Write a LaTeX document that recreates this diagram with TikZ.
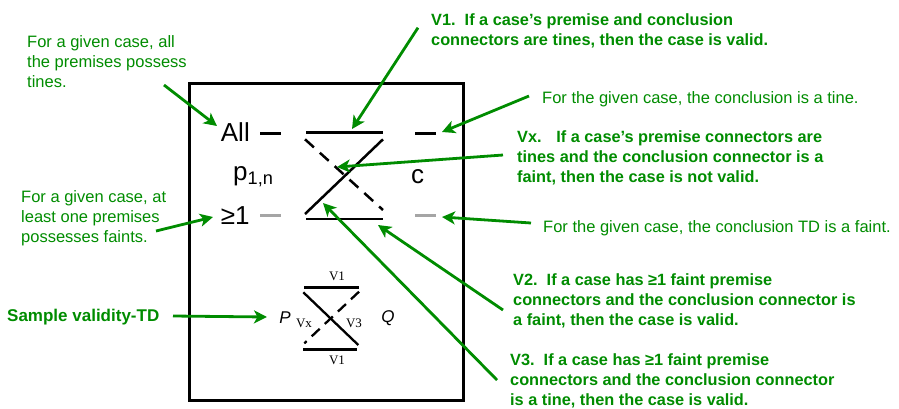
\documentclass[tikz,border=0pt]{standalone}
\usepackage{fontspec}
\setmainfont{Liberation Serif}
\setsansfont{Liberation Sans}
\usetikzlibrary{arrows.meta}

\definecolor{notegreen}{RGB}{0,140,0}
\definecolor{faintgray}{RGB}{165,165,165}

\begin{document}
\begin{tikzpicture}
[
	x=1pt, y=-1pt,
	note/.style={text=notegreen, font=\sffamily\fontsize{16.5}{20}\selectfont, align=left, anchor=north west, inner sep=0pt},
	rule/.style={note, font=\sffamily\bfseries\fontsize{16.3}{20}\selectfont},
	pointer/.style={draw=notegreen, line width=2.8pt, -{Stealth[length=13pt,width=13pt,inset=3.5pt]}},
	tine/.style={line width=2.8pt},
	faint/.style={line width=2.8pt, faintgray},
	dashline/.style={line width=2.5pt, dash pattern=on 12pt off 8pt},
	biglabel/.style={font=\sffamily\fontsize{26}{26}\selectfont, inner sep=0pt, anchor=base west},
	smalllabel/.style={font=\rmfamily\fontsize{13}{13}\selectfont, inner sep=0pt},
	letter/.style={font=\sffamily\itshape\fontsize{17}{17}\selectfont, inner sep=0pt}
]

	\useasboundingbox (0,0) rectangle (899,408);

	% frame
	\draw[line width=3pt] (189,83) rectangle (463,400);

	% premise and conclusion labels
	\node[biglabel] (all) at (220.7,141.7) {All};
	\node[biglabel] (atleast) at (220.7,224) {≥1};
	\node[biglabel] (prem) at (233,180.5) {p\textsubscript{1,n}};
	\node[biglabel] (concl) at (411,183) {c};

	% connectors of the case
	\draw[tine] (260,133.3) -- (281,133.3);
	\draw[faint] (260,215.3) -- (281,215.3);
	\draw[tine] (415,133.3) -- (436,133.3);
	\draw[faint] (415,215.3) -- (436,215.3);

	% validity-TD
	\coordinate (tl) at (306,132.3);
	\coordinate (tr) at (383,132.3);
	\coordinate (bl) at (306,219);
	\coordinate (br) at (383,219);
	\draw[tine] (tl) -- (tr);
	\draw[tine] (bl) -- (br);
	\draw[dashline] (305,139.3) -- (383,210);
	\draw[line width=2.5pt] (383,139.3) -- (305,214);

	% sample validity-TD
	\draw[tine] (304,287.3) -- (359,287.3);
	\draw[tine] (303,349.3) -- (357,349.3);
	\draw[line width=2.3pt] (303.3,292.3) -- (358.3,345);
	\draw[line width=2.3pt, dash pattern=on 11pt off 7pt] (359,291.7) -- (304.3,343.3);
	\node[smalllabel] (vtop) at (337,276) {V1};
	\node[smalllabel] (vbot) at (337,360) {V1};
	\node[smalllabel] (vx) at (304,323) {Vx};
	\node[smalllabel] (vthree) at (354,323) {V3};
	\node[letter] (p) at (285,318) {P};
	\node[letter] (q) at (388,318) {Q};

	% notes
	\node[note] (allnote) at (27,35) {For a given case, all\\the premises possess\\tines.};
	\node[note] (faintnote) at (21,190.5) {For a given case, at\\least one premises\\possesses faints.};
	\node[note] (tinec) at (542,91.5) {For the given case, the conclusion is a tine.};
	\node[note] (faintc) at (543,220) {For the given case, the conclusion TD is a faint.};
	\node[rule] (vone) at (431,13) {V1.\ \ If a case’s premise and conclusion\\connectors are tines, then the case is valid.};
	\node[rule] (vxrule) at (517,130) {Vx.\hspace{0.9em}If a case’s premise connectors are\\tines and the conclusion connector is a\\faint, then the case is not valid.};
	\node[rule] (vtwo) at (513,273.5) {V2.\ \ If a case has ≥1 faint premise\\connectors and the conclusion connector is\\a faint, then the case is valid.};
	\node[rule] (vthreerule) at (510,353) {V3.\ \ If a case has ≥1 faint premise\\connectors and the conclusion connector\\is a tine, then the case is valid.};
	\node[rule, font=\sffamily\bfseries\fontsize{17}{20}\selectfont] (sample) at (7,309) {Sample validity-TD};

	% pointers
	\coordinate (a1) at (164,85);   \coordinate (b1) at (217,126);
	\coordinate (a2) at (418,27.7); \coordinate (b2) at (352,129);
	\coordinate (a3) at (529,96);   \coordinate (b3) at (442,132);
	\coordinate (a4) at (503,155);  \coordinate (b4) at (337,167);
	\coordinate (a5) at (531,223);  \coordinate (b5) at (442,217);
	\coordinate (a6) at (503,310);  \coordinate (b6) at (378,225);
	\coordinate (a7) at (497,380);  \coordinate (b7) at (323,203);
	\coordinate (a8) at (156,231);  \coordinate (b8) at (213,217);
	\coordinate (a9) at (173,316);  \coordinate (b9) at (267,317);
	\foreach \i in {1,...,9}
		\draw[pointer] (a\i) -- (b\i);

\end{tikzpicture}
\end{document}
